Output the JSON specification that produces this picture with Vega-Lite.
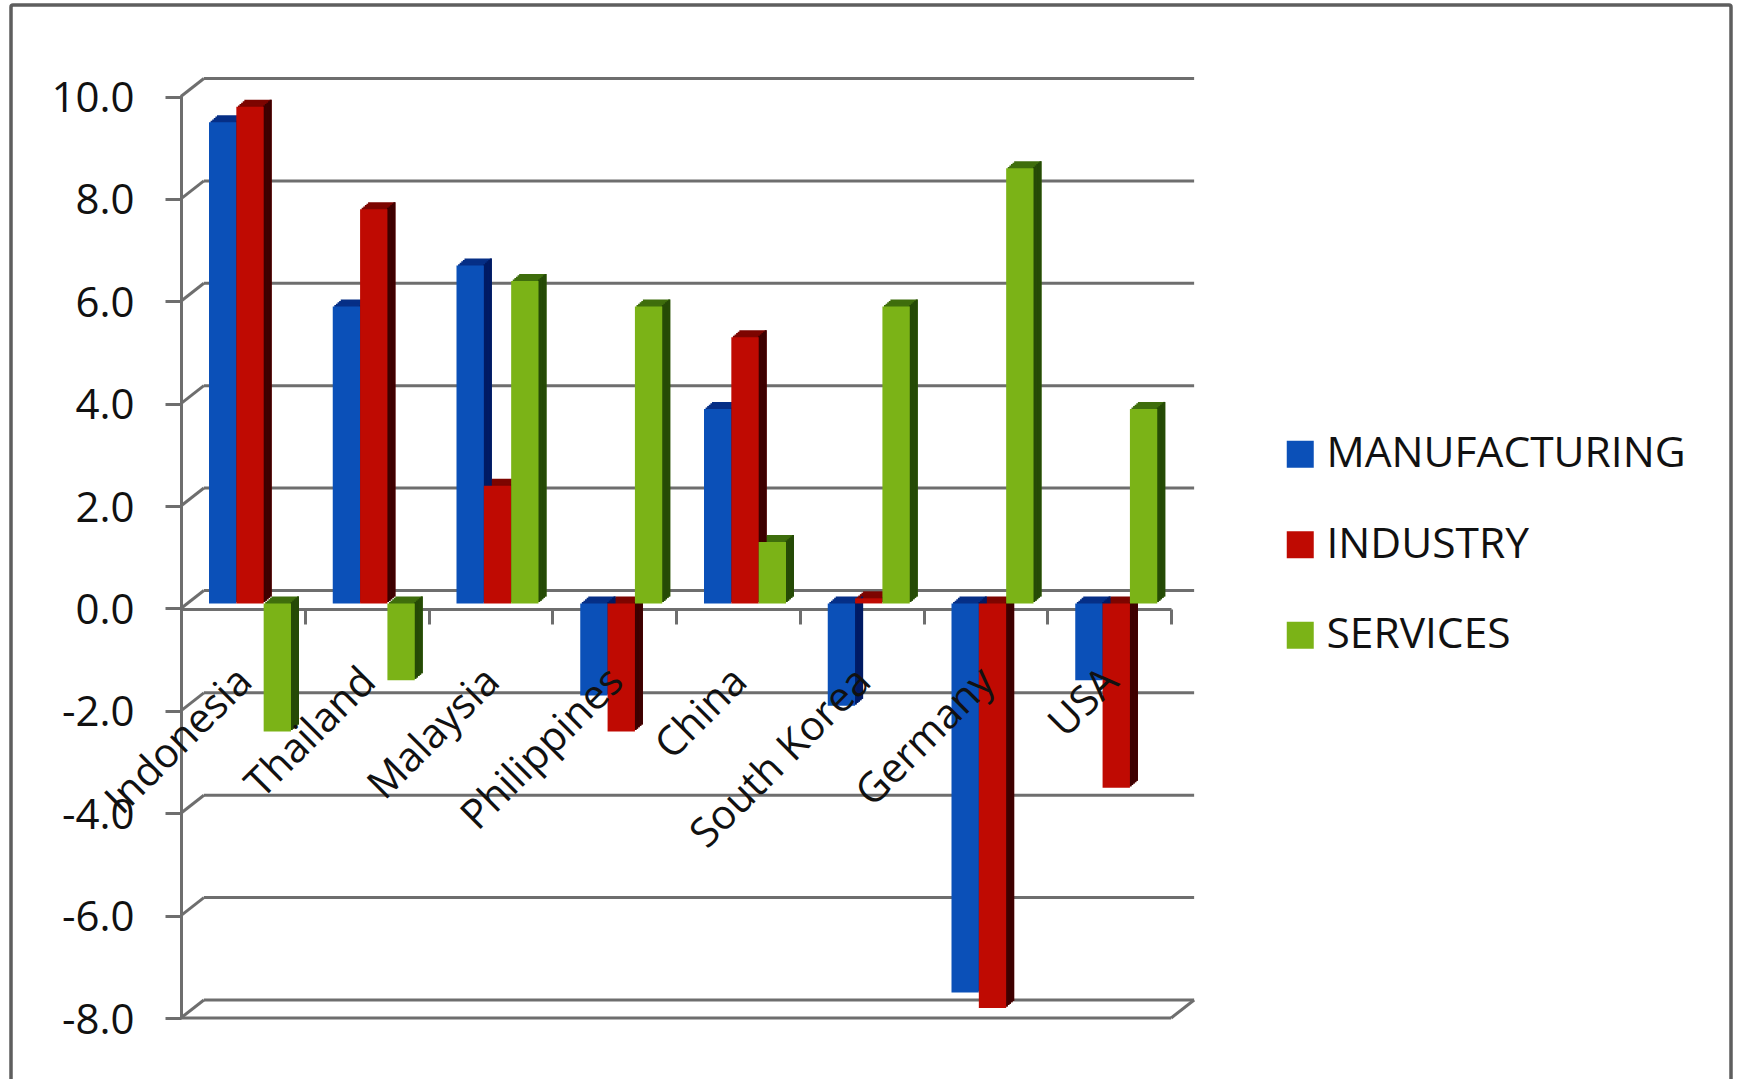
{
"$schema":"https://vega.github.io/schema/vega-lite/v6.json",
"autosize":"none",
"width":1720,
"height":1080,
"padding":{"left":11,"top":5,"right":6,"bottom":-6},
"background":"white",
"view":{"stroke":"#5e5e5e","strokeWidth":3.5,"cornerRadius":2,"fill":"white"},
"datasets":{
"rows":[
{"country":"Indonesia","series":"MANUFACTURING","v":9.4},{"country":"Indonesia","series":"INDUSTRY","v":9.7},{"country":"Indonesia","series":"SERVICES","v":-2.5},
{"country":"Thailand","series":"MANUFACTURING","v":5.8},{"country":"Thailand","series":"INDUSTRY","v":7.7},{"country":"Thailand","series":"SERVICES","v":-1.5},
{"country":"Malaysia","series":"MANUFACTURING","v":6.6},{"country":"Malaysia","series":"INDUSTRY","v":2.3},{"country":"Malaysia","series":"SERVICES","v":6.3},
{"country":"Philippines","series":"MANUFACTURING","v":-1.8},{"country":"Philippines","series":"INDUSTRY","v":-2.5},{"country":"Philippines","series":"SERVICES","v":5.8},
{"country":"China","series":"MANUFACTURING","v":3.8},{"country":"China","series":"INDUSTRY","v":5.2},{"country":"China","series":"SERVICES","v":1.2},
{"country":"South Korea","series":"MANUFACTURING","v":-2.0},{"country":"South Korea","series":"INDUSTRY","v":0.1},{"country":"South Korea","series":"SERVICES","v":5.8},
{"country":"Germany","series":"MANUFACTURING","v":-7.6},{"country":"Germany","series":"INDUSTRY","v":-7.9},{"country":"Germany","series":"SERVICES","v":8.5},
{"country":"USA","series":"MANUFACTURING","v":-1.5},{"country":"USA","series":"INDUSTRY","v":-3.6},{"country":"USA","series":"SERVICES","v":3.8}
],
"grid":[{"v":-8},{"v":-6},{"v":-4},{"v":-2},{"v":0},{"v":2},{"v":4},{"v":6},{"v":8},{"v":10}]
},
"encoding":{
"x":{"field":"country","type":"nominal","sort":null,
"scale":{"domain":["Indonesia","Thailand","Malaysia","Philippines","China","South Korea","Germany","USA"],"range":[170,1160],"paddingInner":0,"paddingOuter":0},
"axis":{"orient":"bottom","offset":-476,"title":null,"labels":false,"grid":false,"tickBand":"extent","tickSize":15,"tickWidth":3,"tickColor":"#6e6e6e","domainWidth":3,"domainColor":"#6e6e6e"}},
"y":{"field":"v","type":"quantitative","stack":null,
"scale":{"domain":[-8,10],"range":[1013,91.5],"nice":false,"zero":false},
"axis":{"orient":"left","offset":-170,"title":null,"grid":false,"values":[-8,-6,-4,-2,0,2,4,6,8,10],"format":".1f","labelExpr":"replace(datum.label, '\u2212', '-')","tickSize":16,"tickWidth":3,"tickColor":"#6e6e6e","domainWidth":3,"domainColor":"#6e6e6e","labelPadding":31,"labelOffset":2,"labelFont":"Open Sans","labelFontSize":42,"labelColor":"#111111"}}
},
"layer":[
{"data":{"name":"grid"},
"layer":[
{"mark":{"type":"rule","color":"#6e6e6e","strokeWidth":3,"xOffset":-39,"x2Offset":85,"yOffset":-18,"y2Offset":-18},
"encoding":{"x":{"datum":"Indonesia"},"x2":{"datum":"USA"},"y":{"field":"v","type":"quantitative"},"y2":{"field":"v"}}},
{"mark":{"type":"rule","color":"#6e6e6e","strokeWidth":3,"xOffset":-62,"x2Offset":-39,"yOffset":0,"y2Offset":-18},
"encoding":{"x":{"datum":"Indonesia"},"x2":{"datum":"Indonesia"},"y":{"field":"v","type":"quantitative"},"y2":{"field":"v"}}}
]},
{"data":{"name":"grid"},"transform":[{"filter":"datum.v === -8"}],
"layer":[
{"mark":{"type":"rule","color":"#6e6e6e","strokeWidth":3,"xOffset":-62,"x2Offset":62},
"encoding":{"x":{"datum":"Indonesia"},"x2":{"datum":"USA"},"y":{"field":"v","type":"quantitative"},"y2":{"field":"v"}}},
{"mark":{"type":"rule","color":"#6e6e6e","strokeWidth":3,"xOffset":62,"x2Offset":85,"yOffset":0,"y2Offset":-18},
"encoding":{"x":{"datum":"USA"},"x2":{"datum":"USA"},"y":{"field":"v","type":"quantitative"},"y2":{"field":"v"}}}
]},
{"data":{"name":"rows"},
"encoding":{
"y2":{"datum":0},
"color":{"field":"series","type":"nominal","legend":null,"scale":{"domain":["MANUFACTURING","INDUSTRY","SERVICES"],"range":["#062f86","#7d0500","#3f6e0c"]}}},
"layer":[
{"mark":{"type":"bar","yOffset":-12,"y2Offset":-12},"encoding":{"xOffset":{"field":"series","type":"nominal","sort":null,"scale":{"domain":["MANUFACTURING","INDUSTRY","SERVICES"],"range":[36,118],"paddingInner":0,"paddingOuter":0}}}},
{"mark":{"type":"bar","yOffset":-10.6,"y2Offset":-10.6},"encoding":{"xOffset":{"field":"series","type":"nominal","sort":null,"scale":{"domain":["MANUFACTURING","INDUSTRY","SERVICES"],"range":[34.4,116.4],"paddingInner":0,"paddingOuter":0}}}},
{"mark":{"type":"bar","yOffset":-9.2,"y2Offset":-9.2},"encoding":{"xOffset":{"field":"series","type":"nominal","sort":null,"scale":{"domain":["MANUFACTURING","INDUSTRY","SERVICES"],"range":[32.8,114.8],"paddingInner":0,"paddingOuter":0}}}},
{"mark":{"type":"bar","yOffset":-7.8,"y2Offset":-7.8},"encoding":{"xOffset":{"field":"series","type":"nominal","sort":null,"scale":{"domain":["MANUFACTURING","INDUSTRY","SERVICES"],"range":[31.2,113.2],"paddingInner":0,"paddingOuter":0}}}},
{"mark":{"type":"bar","yOffset":-6.4,"y2Offset":-6.4},"encoding":{"xOffset":{"field":"series","type":"nominal","sort":null,"scale":{"domain":["MANUFACTURING","INDUSTRY","SERVICES"],"range":[29.6,111.6],"paddingInner":0,"paddingOuter":0}}}}
],
"resolve":{"scale":{"xOffset":"independent"}}},
{"data":{"name":"rows"},
"encoding":{
"y2":{"datum":0},
"color":{"field":"series","type":"nominal","legend":null,"scale":{"domain":["MANUFACTURING","INDUSTRY","SERVICES"],"range":["#001a63","#3d0000","#254a06"]}}},
"layer":[
{"mark":{"type":"bar","width":2,"yOffset":-6.4,"y2Offset":-6.4},"encoding":{"xOffset":{"field":"series","type":"nominal","sort":null,"scale":{"domain":["MANUFACTURING","INDUSTRY","SERVICES"],"range":[42.27,124.27],"paddingInner":0,"paddingOuter":0}}}},
{"mark":{"type":"bar","width":2,"yOffset":-7.8,"y2Offset":-7.8},"encoding":{"xOffset":{"field":"series","type":"nominal","sort":null,"scale":{"domain":["MANUFACTURING","INDUSTRY","SERVICES"],"range":[43.87,125.87],"paddingInner":0,"paddingOuter":0}}}},
{"mark":{"type":"bar","width":2,"yOffset":-9.2,"y2Offset":-9.2},"encoding":{"xOffset":{"field":"series","type":"nominal","sort":null,"scale":{"domain":["MANUFACTURING","INDUSTRY","SERVICES"],"range":[45.47,127.47],"paddingInner":0,"paddingOuter":0}}}},
{"mark":{"type":"bar","width":2,"yOffset":-10.6,"y2Offset":-10.6},"encoding":{"xOffset":{"field":"series","type":"nominal","sort":null,"scale":{"domain":["MANUFACTURING","INDUSTRY","SERVICES"],"range":[47.07,129.07],"paddingInner":0,"paddingOuter":0}}}},
{"mark":{"type":"bar","width":2,"yOffset":-12,"y2Offset":-12},"encoding":{"xOffset":{"field":"series","type":"nominal","sort":null,"scale":{"domain":["MANUFACTURING","INDUSTRY","SERVICES"],"range":[48.67,130.67],"paddingInner":0,"paddingOuter":0}}}}
],
"resolve":{"scale":{"xOffset":"independent"}}},
{"data":{"name":"rows"},
"mark":{"type":"bar","yOffset":-5,"y2Offset":-5},
"encoding":{
"y2":{"datum":0},
"xOffset":{"field":"series","type":"nominal","sort":null,"scale":{"domain":["MANUFACTURING","INDUSTRY","SERVICES"],"range":[28,110],"paddingInner":0,"paddingOuter":0}},
"color":{"field":"series","type":"nominal","sort":null,
"scale":{"domain":["MANUFACTURING","INDUSTRY","SERVICES"],"range":["#0b50b8","#bf0a02","#7bb317"]},
"legend":{"title":null,"orient":"none","legendX":1268,"legendY":428,"symbolType":"square","symbolSize":729,"symbolStrokeWidth":0,"labelFont":"Open Sans","labelFontSize":42.5,"labelColor":"#111111","labelOffset":5,"rowPadding":47.5,"labelLimit":500}}}},
{"data":{"name":"rows"},"transform":[{"filter":"datum.series === 'SERVICES'"}],
"mark":{"type":"text","font":"Open Sans","fontSize":41,"fontWeight":500,"color":"#111111","angle":-45,"align":"right","baseline":"middle","xOffset":3,"yOffset":67},
"encoding":{"text":{"field":"country"},"y":{"datum":0}}}
],
"resolve":{"scale":{"color":"independent","xOffset":"independent"}}
}
